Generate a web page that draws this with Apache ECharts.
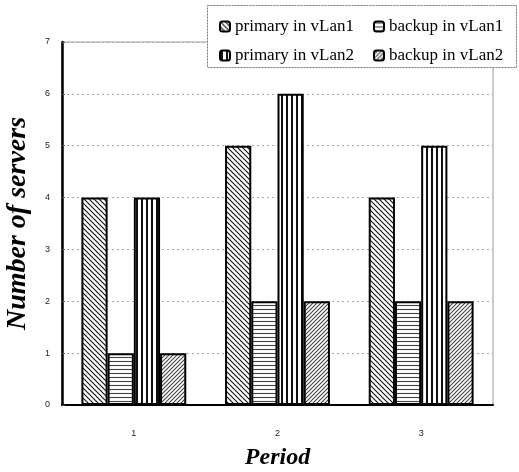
<!DOCTYPE html>
<html>
<head>
<meta charset="utf-8">
<script src="https://cdn.jsdelivr.net/npm/echarts@6/dist/echarts.min.js"></script>
<style>
html,body{margin:0;padding:0;background:#fff;}
#chart{width:519px;height:472px;}
</style>
</head>
<body>
<div id="chart"></div>
<script>
var categories = ['1', '2', '3'];
var seriesNames = ['primary in vLan1', 'backup in vLan1', 'primary in vLan2', 'backup in vLan2'];
var primaryVLan1 = [4, 5, 4];
var backupVLan1 = [1, 2, 2];
var primaryVLan2 = [4, 6, 5];
var backupVLan2 = [1, 2, 2];
var yTicks = [0, 1, 2, 3, 4, 5, 6, 7];

function makePattern(kind) {
  var c = document.createElement('canvas');
  var s = kind === 'vert' ? 5 : (kind === 'horiz' ? 4 : (kind === 'fwd' ? 4 : 5));
  c.width = s; c.height = s;
  var g = c.getContext('2d');
  g.fillStyle = '#fff';
  g.fillRect(0, 0, s, s);
  g.strokeStyle = kind === 'horiz' || kind === 'fwd' ? '#444' : '#111';
  g.lineWidth = kind === 'vert' ? 2 : 1.1;
  g.beginPath();
  if (kind === 'back') {
    g.moveTo(-1, -1); g.lineTo(s + 1, s + 1);
    g.moveTo(-1, s - 1); g.lineTo(1, s + 1);
    g.moveTo(s - 1, -1); g.lineTo(s + 1, 1);
  } else if (kind === 'fwd') {
    g.moveTo(-1, s + 1); g.lineTo(s + 1, -1);
    g.moveTo(-1, 1); g.lineTo(1, -1);
    g.moveTo(s - 1, s + 1); g.lineTo(s + 1, s - 1);
  } else if (kind === 'horiz') {
    g.moveTo(0, 1.5); g.lineTo(s, 1.5);
  } else if (kind === 'vert') {
    g.moveTo(2, 0); g.lineTo(2, s);
  }
  g.stroke();
  return c;
}

var patterns = [makePattern('back'), makePattern('horiz'), makePattern('vert'), makePattern('fwd')];
var dataSets = [primaryVLan1, backupVLan1, primaryVLan2, backupVLan2];

var chart = echarts.init(document.getElementById('chart'));

var series = seriesNames.map(function (n, i) {
  return {
    name: n,
    type: 'bar',
    data: dataSets[i],
    barGap: '0%',
    barCategoryGap: '27%',
    itemStyle: {
      color: { image: patterns[i], repeat: 'repeat' },
      borderColor: '#000',
      borderWidth: 2
    }
  };
});

var legendText = { fontFamily: 'Liberation Serif', fontSize: 17, color: '#000' };

chart.setOption({
  animation: false,
  grid: { left: 62, right: 26, top: 42, bottom: 67, outerBoundsMode: 'none', containLabel: false, show: true, borderColor: '#999', borderWidth: 1 },
  graphic: [{
    type: 'rect',
    shape: { x: 207.5, y: 5.5, width: 309, height: 62 },
    style: { fill: '#fff', stroke: '#777', lineWidth: 1, lineDash: [2, 1] },
    z: 5
  }],
  legend: [{
    data: [seriesNames[0], seriesNames[2]],
    orient: 'vertical',
    left: 214, top: 13,
    itemWidth: 10, itemHeight: 10, itemGap: 12,
    textStyle: legendText,
    itemStyle: { borderColor: '#000', borderWidth: 2 },
    z: 10
  }, {
    data: [seriesNames[1], seriesNames[3]],
    orient: 'vertical',
    left: 368, top: 13,
    itemWidth: 10, itemHeight: 10, itemGap: 12,
    textStyle: legendText,
    itemStyle: { borderColor: '#000', borderWidth: 2 },
    z: 10
  }],
  xAxis: {
    type: 'category',
    data: categories,
    name: 'Period',
    nameLocation: 'middle',
    nameGap: 41,
    nameTextStyle: { fontFamily: 'Liberation Serif', fontWeight: 'bold', fontStyle: 'italic', fontSize: 24, color: '#000' },
    axisLine: { lineStyle: { color: '#000', width: 2 } },
    axisTick: { show: false },
    axisLabel: { margin: 24, fontFamily: 'Liberation Sans', fontSize: 9, color: '#222' }
  },
  yAxis: {
    type: 'value',
    min: yTicks[0],
    max: yTicks[yTicks.length - 1],
    interval: 1,
    name: 'Number of servers',
    nameLocation: 'middle',
    nameGap: 30,
    nameRotate: 90,
    nameTextStyle: { fontFamily: 'Liberation Serif', fontWeight: 'bold', fontStyle: 'italic', fontSize: 28, color: '#000' },
    axisLine: { show: true, lineStyle: { color: '#000', width: 2.5 } },
    axisTick: { show: true, inside: true, length: 3, lineStyle: { color: '#555' } },
    axisLabel: { margin: 12, fontFamily: 'Liberation Sans', fontSize: 9, color: '#222' },
    splitLine: { show: true, lineStyle: { color: '#aaa', type: [2, 3], width: 1 } }
  },
  series: series
});
</script>
</body>
</html>
